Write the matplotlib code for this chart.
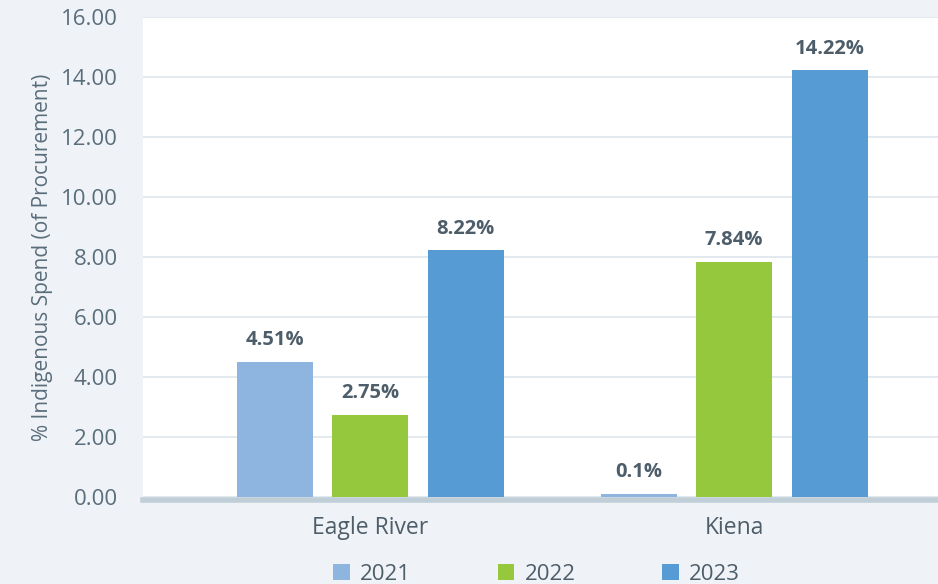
import numpy as np
import matplotlib.pyplot as plt

plt.rcParams['font.family'] = ['Open Sans', 'DejaVu Sans']

sites = ["Eagle River", "Kiena"]
years = ["2021", "2022", "2023"]
spend_2021 = [4.51, 0.1]
spend_2022 = [2.75, 7.84]
spend_2023 = [8.22, 14.22]
bar_labels = [["4.51%", "0.1%"], ["2.75%", "7.84%"], ["8.22%", "14.22%"]]
colors = ["#8eb4e0", "#95c83d", "#579bd5"]

bg = "#eff3f7"
fig = plt.figure(figsize=(9.38, 5.84), dpi=100, facecolor=bg)
ax = fig.add_axes([143/938, 1-497/584, 795/938, 480/584])
ax.set_facecolor("white")

x = np.arange(len(sites))
w = 0.209
step = 0.2624
series = [spend_2021, spend_2022, spend_2023]
for i, vals in enumerate(series):
    pos = x + (i - 1) * step
    ax.bar(pos, vals, width=w, color=colors[i], label=years[i], zorder=3)
    for p, v, lab in zip(pos, vals, bar_labels[i]):
        ax.text(p, v + 0.72, lab, ha="center", va="center", fontsize=14.5,
                fontweight="bold", color="#4d5d69", zorder=4)

ax.set_ylim(0, 16)
ax.set_xlim(-0.624, 1.56)
ax.set_yticks(np.arange(0, 17, 2))
ax.set_yticklabels([f"{v:.2f}" for v in np.arange(0, 17, 2)])
ax.set_xticks(x)
ax.set_xticklabels(sites)
ax.tick_params(axis="y", length=0, pad=18, labelsize=16, labelcolor="#5a6d7b")
ax.tick_params(axis="x", length=0, pad=12, labelsize=16.5, labelcolor="#4d5d69")
ax.grid(axis="y", color="#dde5ec", linewidth=1.2, zorder=0)
for s in ["top", "right", "left"]:
    ax.spines[s].set_visible(False)
ax.spines["bottom"].set_color("#c0ced8")
ax.spines["bottom"].set_linewidth(4)
ax.spines["bottom"].set_position(("outward", 2))
ax.spines["bottom"].set_zorder(5)

ax.set_ylabel("% Indigenous Spend (of Procurement)", fontsize=15,
              color="#5a6d7b", labelpad=6)

leg = fig.legend(loc="lower center", bbox_to_anchor=(0.572, -0.036), ncol=3,
                 frameon=False, fontsize=16, handlelength=0.75, handleheight=0.75,
                 columnspacing=3.9, handletextpad=0.45, labelcolor="#4d5d69")

fig.savefig("out.png", dpi=100, facecolor=bg)
